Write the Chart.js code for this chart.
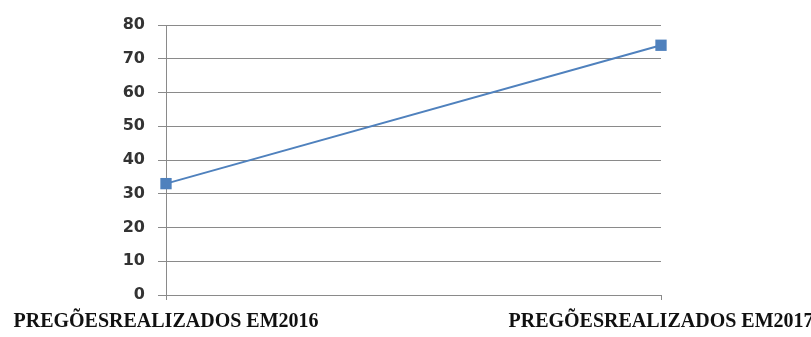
<!DOCTYPE html>
<html>
<head>
<meta charset="utf-8">
<script src="https://cdn.jsdelivr.net/npm/chart.js@4/dist/chart.umd.min.js"></script>
<style>
  html, body { margin: 0; padding: 0; background: #fff; }
  #wrap { width: 811px; height: 337px; }
</style>
</head>
<body>
<div id="wrap"><canvas id="c" width="811" height="337"></canvas></div>
<script>
// Pregões realizados por ano
const categories = ['PREGÕESREALIZADOS EM2016', 'PREGÕESREALIZADOS EM2017'];
const pregoes = [33, 74];
const yTicks = [0, 10, 20, 30, 40, 50, 60, 70, 80];

const ctx = document.getElementById('c').getContext('2d');
new Chart(ctx, {
  type: 'line',
  data: {
    labels: categories,
    datasets: [{
      data: pregoes,
      borderColor: '#4f81bd',
      backgroundColor: '#4f81bd',
      borderWidth: 2,
      pointStyle: 'rect',
      pointRadius: 8,
      pointHoverRadius: 8,
      pointBorderWidth: 0,
      tension: 0
    }]
  },
  options: {
    responsive: false,
    animation: false,
    events: [],
    layout: { padding: { left: 0, right: 0, top: 25, bottom: 0 } },
    plugins: { legend: { display: false }, tooltip: { enabled: false } },
    scales: {
      x: {
        offset: false,
        grid: {
          display: true,
          drawOnChartArea: false,
          drawTicks: true,
          tickLength: 5,
          color: '#8a8a8a'
        },
        border: { display: true, color: '#8a8a8a', width: 1 },
        ticks: {
          autoSkip: false,
          maxRotation: 0,
          minRotation: 0,
          padding: 10,
          color: '#111',
          font: { family: 'Liberation Serif', size: 20, weight: 'bold' }
        },
        afterFit(scale) {
          scale.height = 42;
          scale.paddingLeft = 0;
          scale.paddingRight = 150;
        }
      },
      y: {
        min: 0,
        max: 80,
        afterBuildTicks(scale) { scale.ticks = yTicks.map(v => ({ value: v })); },
        grid: {
          color: '#8a8a8a',
          lineWidth: 1,
          tickLength: 8,
          drawTicks: true
        },
        border: { display: true, color: '#8a8a8a', width: 1 },
        ticks: {
          padding: 13,
          color: '#333',
          font: { family: 'DejaVu Sans', size: 16, weight: 'bold' }
        },
        afterFit(scale) {
          scale.width = 166;
          scale.paddingTop = 0;
          scale.paddingBottom = 0;
        }
      }
    }
  }
});
</script>
</body>
</html>
